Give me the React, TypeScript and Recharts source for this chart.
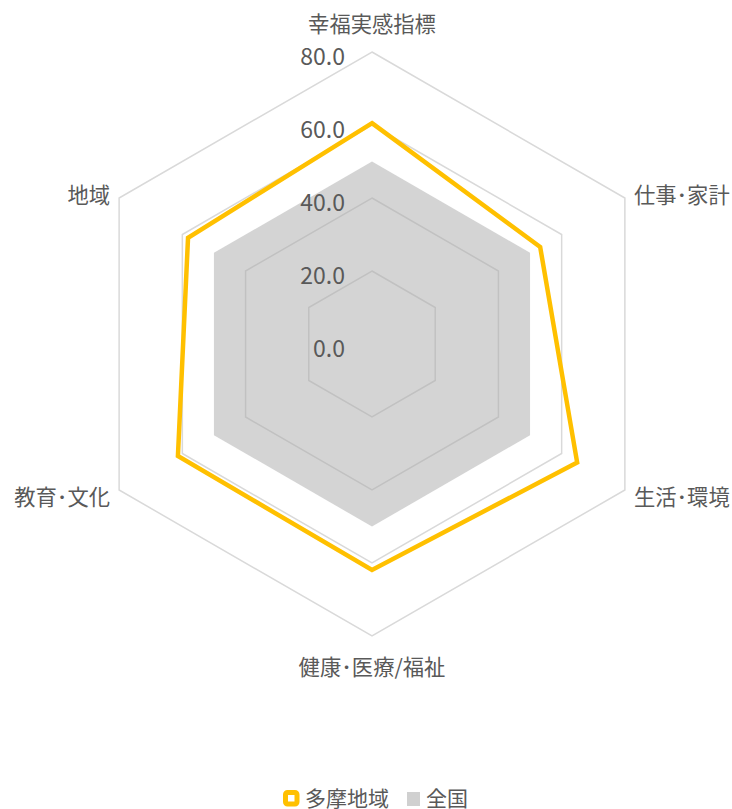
import React from "react";
import {
  RadarChart,
  Radar,
  PolarGrid,
  PolarAngleAxis,
  PolarRadiusAxis,
} from "recharts";

const categories = [
  "幸福実感指標",
  "仕事･家計",
  "生活･環境",
  "健康･医療/福祉",
  "教育･文化",
  "地域",
];
const tamaValues = [60.5, 53.2, 64.9, 61.9, 61.4, 58.2];
const zenkokuValues = [50, 50, 50, 50, 50, 50];
const radiusTicks = [0, 20, 40, 60, 80];

const data = categories.map((c, i) => ({
  subject: c,
  tama: tamaValues[i],
  zenkoku: zenkokuValues[i],
}));

const W = 732;
const H = 809;
const CX = 372;
const CY = 344;
const R = 292;
const FONT = '"Noto Sans CJK JP", "Noto Sans", sans-serif';
const TEXT = "#595959";
const YELLOW = "#FFC000";

const AngleTick = (props: any) => {
  const { payload } = props;
  const ang = ((payload?.coordinate ?? 0) * Math.PI) / 180;
  const vx = CX + R * Math.cos(ang);
  const vy = CY - R * Math.sin(ang);
  let x = vx;
  let y = vy;
  let anchor: "start" | "middle" | "end" = "middle";
  const c = Math.cos(ang);
  const s = Math.sin(ang);
  if (Math.abs(c) < 0.01) {
    y = s > 0 ? vy - 30 : vy + 29;
  } else {
    x = c > 0 ? vx + 9 : vx - 9;
    y = s > 0 ? vy - 5 : vy + 5;
    anchor = c > 0 ? "start" : "end";
  }
  return (
    <text
      x={x}
      y={y}
      textAnchor={anchor}
      dominantBaseline="central"
      fill={TEXT}
      fontSize={21.3}
      fontFamily={FONT}
    >
      {payload.value}
    </text>
  );
};

const RadiusTick = (props: any) => {
  const { x, y, payload } = props;
  return (
    <text
      x={x - 27}
      y={y + 3}
      textAnchor="end"
      dominantBaseline="central"
      fill={TEXT}
      fontSize={23}
      fontFamily={FONT}
    >
      {Number(payload.value).toFixed(1)}
    </text>
  );
};

// legend drawn as a small overlay under the chart
const ChartLegend = () => (
  <svg width={W} height={44} style={{ position: "absolute", left: 0, top: 765, display: "block" }}>
    <rect x={285.5} y={27.5} width={11.5} height={11.5} rx={2} fill="#fff" stroke={YELLOW} strokeWidth={5} />
    <text x={305} y={32} dominantBaseline="central" fill={TEXT} fontSize={21} fontFamily={FONT}>
      多摩地域
    </text>
    <rect x={407} y={27} width={13} height={14} fill="#d0d0d0" />
    <text x={426} y={32} dominantBaseline="central" fill={TEXT} fontSize={21} fontFamily={FONT}>
      全国
    </text>
  </svg>
);

export default function App() {
  return (
    <div style={{ position: "absolute", left: 0, top: 0, width: W, height: H, background: "#fff" }}>
      <RadarChart
        width={W}
        height={H}
        data={data}
        cx={CX}
        cy={CY}
        outerRadius={R}
        margin={{ top: 0, right: 0, bottom: 0, left: 0 }}
      >
        <PolarGrid
          gridType="polygon"
          radialLines={false}
          stroke="#d9d9d9"
          strokeWidth={1.5}
          polarRadius={radiusTicks.slice(1).map((t) => (t / 80) * R)}
        />
        <PolarAngleAxis dataKey="subject" tick={<AngleTick />} tickLine={false} axisLine={false} />
        <PolarRadiusAxis
          angle={90}
          domain={[0, 80]}
          ticks={radiusTicks as any}
          tickCount={5}
          axisLine={false}
          tick={<RadiusTick />}
        />
        <Radar
          name="全国"
          dataKey="zenkoku"
          stroke="none"
          fill="#a9a9a9"
          fillOpacity={0.5}
          isAnimationActive={false}
        />
        <Radar
          name="多摩地域"
          dataKey="tama"
          stroke={YELLOW}
          strokeWidth={4.5}
          fill="none"
          fillOpacity={0}
          isAnimationActive={false}
        />
      </RadarChart>
      <ChartLegend />
    </div>
  );
}
